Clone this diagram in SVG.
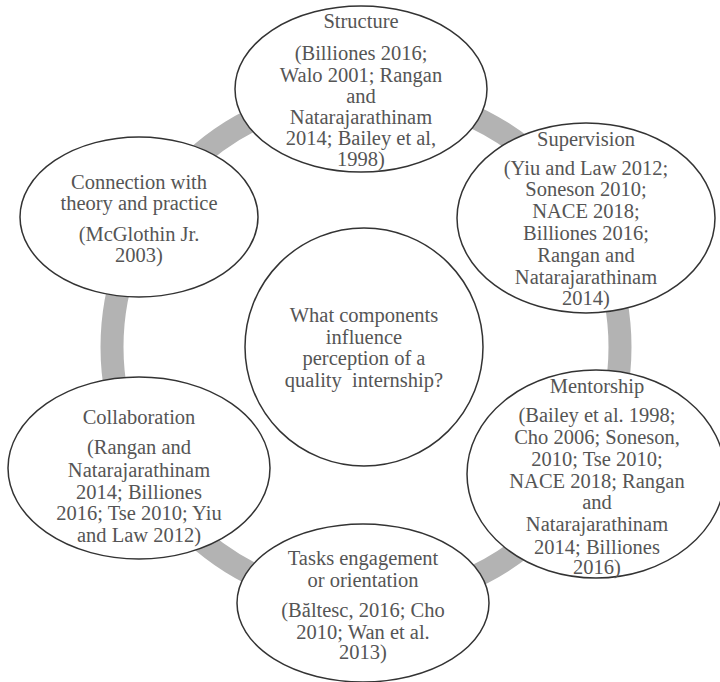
<svg xmlns="http://www.w3.org/2000/svg" width="720" height="682" viewBox="0 0 720 682">
<style>
.node ellipse, .node circle {fill:#ffffff; stroke:#333333; stroke-width:1.5}
.node text {font-family:'Liberation Serif','Tinos','Times New Roman','DejaVu Serif',serif; font-size:20.5px; fill:#555555; text-anchor:middle}
.ring {fill:none; stroke:#b3b3b3; stroke-width:23}
</style>
<rect width="720" height="682" fill="#ffffff"/>
<g id="connectors">
<circle class="ring" cx="366" cy="347" r="254"/>
</g>
<g id="structure" class="node" font-family="Liberation Serif, serif">
<ellipse cx="361" cy="89" rx="126" ry="83"/>
<text x="361" y="28">Structure</text>
<text x="361" y="60">(Billiones 2016;</text>
<text x="361" y="82">Walo 2001; Rangan</text>
<text x="361" y="103">and</text>
<text x="361" y="124">Natarajarathinam</text>
<text x="361" y="145">2014; Bailey et al,</text>
<text x="361" y="166">1998)</text>
</g>
<g id="supervision" class="node" font-family="Liberation Serif, serif">
<ellipse cx="586" cy="218" rx="129" ry="95"/>
<text x="586" y="146">Supervision</text>
<text x="586" y="175">(Yiu and Law 2012;</text>
<text x="586" y="196">Soneson 2010;</text>
<text x="586" y="218">NACE 2018;</text>
<text x="586" y="240">Billiones 2016;</text>
<text x="586" y="262">Rangan and</text>
<text x="586" y="284">Natarajarathinam</text>
<text x="586" y="305">2014)</text>
</g>
<g id="mentorship" class="node" font-family="Liberation Serif, serif">
<ellipse cx="596" cy="474" rx="129" ry="104"/>
<text x="597" y="393">Mentorship</text>
<text x="597" y="422">(Bailey et al. 1998;</text>
<text x="597" y="444">Cho 2006; Soneson,</text>
<text x="597" y="466">2010; Tse 2010;</text>
<text x="597" y="488">NACE 2018; Rangan</text>
<text x="597" y="509">and</text>
<text x="597" y="531">Natarajarathinam</text>
<text x="597" y="554">2014; Billiones</text>
<text x="597" y="574">2016)</text>
</g>
<g id="tasks" class="node" font-family="Liberation Serif, serif">
<ellipse cx="363" cy="603" rx="126" ry="79"/>
<text x="363" y="565">Tasks engagement</text>
<text x="363" y="587">or orientation</text>
<text x="363" y="617">(Băltesc, 2016; Cho</text>
<text x="363" y="639">2010; Wan et al.</text>
<text x="363" y="659">2013)</text>
</g>
<g id="collaboration" class="node" font-family="Liberation Serif, serif">
<ellipse cx="139" cy="468" rx="131" ry="91"/>
<text x="139" y="424">Collaboration</text>
<text x="139" y="454">(Rangan and</text>
<text x="139" y="477">Natarajarathinam</text>
<text x="139" y="499">2014; Billiones</text>
<text x="139" y="520">2016; Tse 2010; Yiu</text>
<text x="139" y="542">and Law 2012)</text>
</g>
<g id="connection" class="node" font-family="Liberation Serif, serif">
<ellipse cx="139" cy="217" rx="119" ry="80"/>
<text x="139" y="189">Connection with</text>
<text x="139" y="210">theory and practice</text>
<text x="139" y="241">(McGlothin Jr.</text>
<text x="139" y="262">2003)</text>
</g>
<g id="center" class="node" font-family="Liberation Serif, serif">
<circle cx="364" cy="347" r="119"/>
<text x="364" y="322">What components</text>
<text x="364" y="344">influence</text>
<text x="364" y="365">perception of a</text>
<text x="364" y="387" style="white-space:pre">quality  internship?</text>
</g>
</svg>
